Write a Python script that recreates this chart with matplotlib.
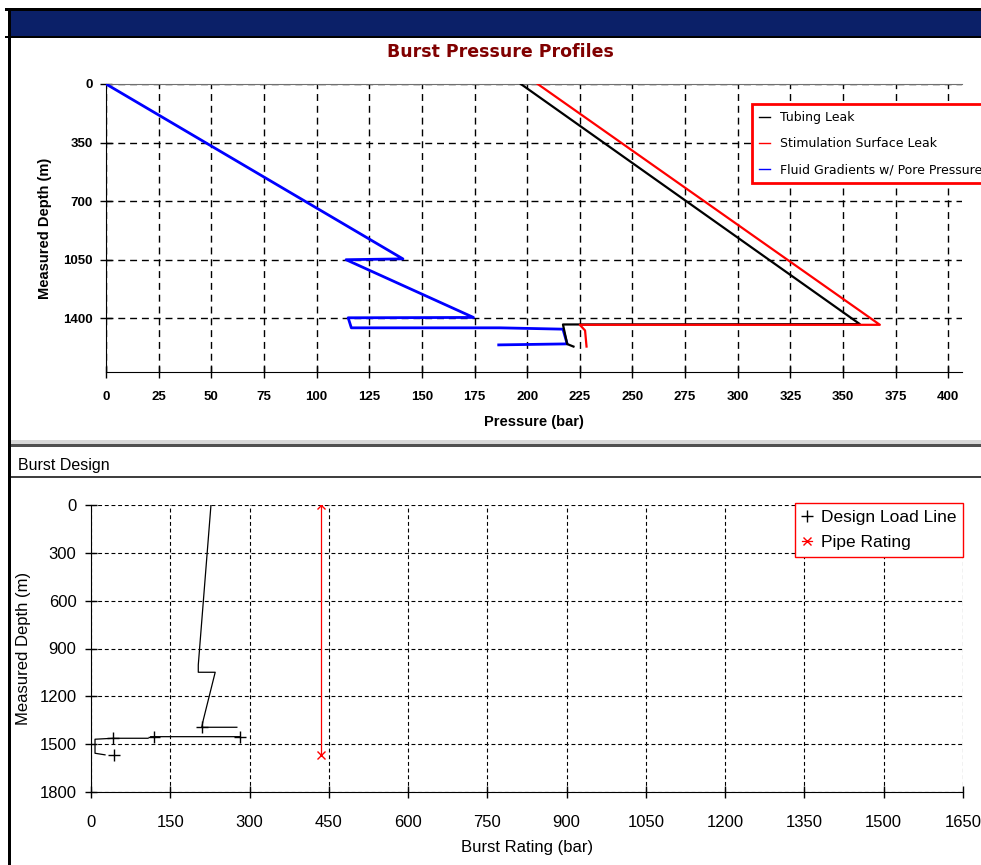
import numpy as np
import matplotlib.pyplot as plt
from matplotlib.patches import Rectangle
from matplotlib.lines import Line2D

# burst pressure profiles (bar vs measured depth, m)
tubing_bar = [197, 358, 217, 219, 222]
tubing_depth = [0, 1435, 1437, 1554, 1569]

stim_bar = [205, 367.5, 225, 227.5, 228.2]
stim_depth = [0, 1439, 1439, 1473, 1569]

fluid_bar = [0, 141, 114, 174.5, 115, 116.5, 187, 217, 219, 186.5]
fluid_depth = [0, 1045, 1050, 1395, 1397, 1457, 1457, 1465, 1553, 1559]

# burst design: load line pieces (nan = break) and its marked points
design_bar = [227, 203, 203, 235, 212.5, 209.5, 276, np.nan,
              281, 113, np.nan, 108, 42, 7.6, 7.6, 26.5]
design_depth = [0, 1003, 1049, 1049, 1348, 1394, 1394, np.nan,
                1453, 1453, np.nan, 1463, 1463, 1469, 1557, 1567]
design_mark_bar = [209.5, 281, 119, 42, 44]
design_mark_depth = [1394, 1453, 1453, 1463, 1567]

rating_bar = [435, 435]
rating_depth = [0, 1567]

W, H = 981, 865
fig = plt.figure(figsize=(W / 100, H / 100), dpi=100)


def px(x, y):
    return x / W, 1 - y / H


def box(x0, y0, x1, y1, color):
    fx0, fy1 = px(x0, y0)
    fx1, fy0 = px(x1, y1)
    fig.add_artist(Rectangle((fx0, fy0), fx1 - fx0, fy1 - fy0,
                             transform=fig.transFigure, color=color, lw=0, zorder=-5))


# window frame
box(5, 8, W, 11, 'black')
box(11, 11, W, 36, '#0b2068')
box(5, 36, W, 38, 'black')
box(8, 8, 11, H, 'black')
box(11, 440, W, 444, '#d8d8d8')
box(11, 444, W, 447, '#505050')
box(11, 476, W, 478, '#404040')

fig.text(*px(500, 52), 'Burst Pressure Profiles', color='#800000', fontsize=12.5,
         fontweight='bold', family='DejaVu Sans', ha='center', va='center')
fig.text(*px(18, 466), 'Burst Design', fontsize=11.5,
         family='Liberation Sans', ha='left', va='center')

# --- top chart ---
l, t = px(106, 84)
r, b = px(962, 372)
ax1 = fig.add_axes([l, b, r - l, t - b])
ax1.plot(fluid_bar, fluid_depth, color='#0000ff', lw=2, label='Fluid Gradients w/ Pore Pressure', zorder=3)
ax1.plot(tubing_bar, tubing_depth, color='black', lw=1.6, label='Tubing Leak', zorder=4)
ax1.plot(stim_bar, stim_depth, color='#ff0000', lw=1.6, label='Stimulation Surface Leak', zorder=5)
ax1.set_xlim(0, 406.5)
ax1.set_ylim(1721, 0)
ax1.set_xticks(np.arange(0, 401, 25))
ax1.set_yticks([0, 350, 700, 1050, 1400])
ax1.grid(True, color='black', lw=1, linestyle=(0, (5, 3.5)))
ax1.tick_params(direction='inout', length=9, width=1, labelsize=9.5)
ax1.tick_params(axis='x', pad=9)
ax1.tick_params(axis='y', pad=5)
for lab in ax1.get_xticklabels() + ax1.get_yticklabels():
    lab.set_fontweight('bold')
    lab.set_family('Liberation Sans')
ax1.spines['right'].set_visible(False)
ax1.spines['top'].set_color('#707070')
ax1.set_xlabel('Pressure (bar)', fontsize=10.5, fontweight='bold', family='Liberation Sans', labelpad=9)
ax1.set_ylabel('Measured Depth (m)', fontsize=10.5, fontweight='bold', family='Liberation Sans', labelpad=8)

h, lbl = ax1.get_legend_handles_labels()
order = [1, 2, 0]
leg1 = ax1.legend([Line2D([], [], color=h[i].get_color(), lw=1) for i in order],
                  [lbl[i] for i in order],
                  loc='upper left', bbox_to_anchor=px(752, 104), bbox_transform=fig.transFigure,
                  prop={'family': 'DejaVu Sans', 'size': 9}, handlelength=0.9,
                  handletextpad=0.8, labelspacing=1.05, borderpad=0.55, fancybox=False,
                  framealpha=1, borderaxespad=0)
leg1.get_frame().set_edgecolor('#ff0000')
leg1.get_frame().set_linewidth(2)

# --- bottom chart ---
l, t = px(91, 505)
r, b = px(963, 792)
ax2 = fig.add_axes([l, b, r - l, t - b])
ax2.plot(design_bar, design_depth, color='black', lw=0.9)
ax2.plot(design_mark_bar, design_mark_depth, linestyle='none', marker='+', ms=9,
         mew=1, color='black', label='Design Load Line')
ax2.plot(rating_bar, rating_depth, color='#ff0000', lw=0.9, marker='x', ms=6, mew=1,
         label='Pipe Rating')
ax2.set_xlim(0, 1650)
ax2.set_ylim(1800, 0)
ax2.set_xticks(np.arange(0, 1651, 150))
ax2.set_yticks(np.arange(0, 1801, 300))
ax2.grid(True, color='black', lw=0.8, linestyle=(0, (3.5, 2.5)))
ax2.tick_params(direction='inout', length=9, width=1, labelsize=12)
ax2.tick_params(axis='x', pad=12)
ax2.tick_params(axis='y', pad=6)
for lab in ax2.get_xticklabels() + ax2.get_yticklabels():
    lab.set_family('Liberation Sans')
ax2.spines['right'].set_visible(False)
ax2.spines['top'].set_visible(False)
ax2.set_xlabel('Burst Rating (bar)', fontsize=12, family='Liberation Sans', labelpad=7)
ax2.set_ylabel('Measured Depth (m)', fontsize=12, family='Liberation Sans', labelpad=6)

leg2 = ax2.legend(loc='upper left', bbox_to_anchor=px(795, 503), bbox_transform=fig.transFigure,
                  prop={'family': 'Liberation Sans', 'size': 12.5}, handlelength=0.6,
                  handletextpad=0.5, labelspacing=0.55, borderpad=0.4, fancybox=False,
                  framealpha=1, borderaxespad=0)
leg2.get_frame().set_edgecolor('#ff0000')
leg2.get_frame().set_linewidth(1)

fig.savefig('out.png', dpi=100)
